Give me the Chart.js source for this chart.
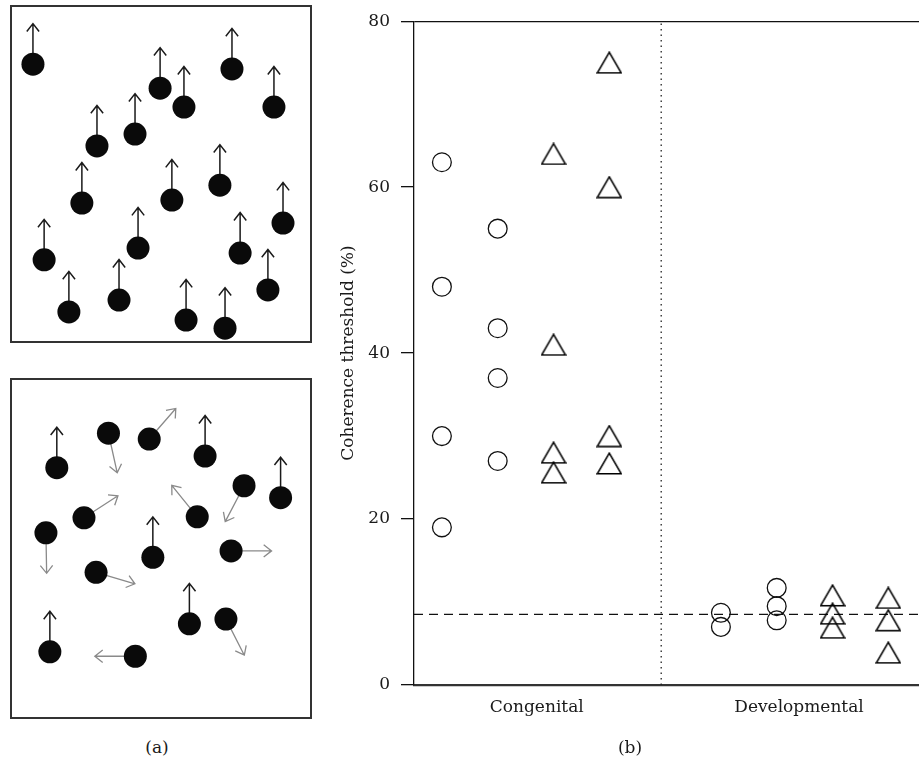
<!DOCTYPE html>
<html><head><meta charset="utf-8">
<script src="https://cdn.jsdelivr.net/npm/chart.js@4"></script>
<style>
html,body{margin:0;padding:0;background:#fff;}
#wrap{position:relative;width:919px;height:761px;overflow:hidden;background:#fff;}
canvas{position:absolute;}
.lab{position:absolute;font-family:'DejaVu Serif';font-size:17px;color:#1a1a1a;transform:translate(-50%,-50%);white-space:nowrap;}
</style></head><body>
<div id="wrap">
<canvas id="boxA1" width="302" height="338" style="left:10px;top:5px"></canvas>
<canvas id="boxA2" width="302" height="341" style="left:10px;top:378px"></canvas>
<canvas id="chartB" width="589" height="761" style="left:330px;top:0"></canvas>
<div class="lab" style="left:157px;top:747px">(a)</div>
<div class="lab" style="left:630px;top:747px">(b)</div>
</div>
<script>
// ---------- Panel (a): dot fields (positions in % of the stimulus box) ----------
const fieldTopX = [7.6, 49.7, 57.6, 73.5, 87.4, 28.8, 41.4, 23.8, 53.6, 69.5, 90.4, 11.3, 42.4, 76.2, 19.5, 36.1, 58.3, 71.2, 85.4];
const fieldTopY = [82.5, 75.4, 69.8, 81.1, 69.8, 58.3, 61.8, 41.4, 42.3, 46.7, 35.5, 24.6, 28.1, 26.6, 9.2, 12.7, 6.8, 4.4, 15.7];
const fieldTopDir = [0, 0, 0, 0, 0, 0, 0, 0, 0, 0, 0, 0, 0, 0, 0, 0, 0, 0, 0]; // degrees, 0 = up, clockwise
const fieldTopSignal = [1, 1, 1, 1, 1, 1, 1, 1, 1, 1, 1, 1, 1, 1, 1, 1, 1, 1, 1];

const fieldBottomX = [15.5, 32.6, 46.1, 64.6, 77.5, 89.6, 24.5, 62.0, 11.9, 47.3, 73.2, 28.5, 59.4, 71.5, 13.2, 41.5];
const fieldBottomY = [73.7, 83.8, 82.1, 77.1, 68.4, 64.9, 59.0, 59.3, 54.6, 47.4, 49.3, 43.0, 27.9, 29.3, 19.7, 18.4];
const fieldBottomDir = [0, 167.5, 41, 0, 207.7, 0, 57, 321, 179, 0, 90, 106.4, 0, 153, 0, 270];
const fieldBottomSignal = [1, 0, 0, 1, 0, 1, 0, 0, 0, 1, 0, 0, 1, 0, 1, 0];

// ---------- Panel (b): coherence thresholds ----------
const groups = ['Congenital', 'Developmental'];
const groupLabelPos = [2.7, 7.4];
const groupDivider = 4.93;
const thresholdLine = 8.5;
const yTicks = [0, 20, 40, 60, 80];
const columnPos = [1, 2, 3, 4, 6, 7, 8, 9];
const congenitalCirclesA = [63, 48, 30, 19];
const congenitalCirclesB = [55, 43, 37, 27];
const congenitalTrianglesA = [64, 41, 28, 25.6];
const congenitalTrianglesB = [75, 60, 30, 26.7];
const developmentalCirclesA = [8.7, 7.0];
const developmentalCirclesB = [11.7, 9.5, 7.8];
const developmentalTrianglesA = [10.8, 8.6, 6.9];
const developmentalTrianglesB = [10.5, 7.8, 3.9];

const FONT = 'DejaVu Serif';
const TXT = '#1a1a1a';

// ---------- Panel (a) charts ----------
const ARROW_LEN = 40.5, HEAD = 10, HEAD_ANG = 38 * Math.PI / 180;
function fieldPlugin(dirs, signal) {
  return {
    id: 'arrows',
    beforeDatasetsDraw(chart) {
      const ctx = chart.ctx;
      const meta = chart.getDatasetMeta(0);
      meta.data.forEach((pt, i) => {
        const a = dirs[i] * Math.PI / 180;
        const dx = Math.sin(a), dy = -Math.cos(a);
        const x0 = pt.x, y0 = pt.y;
        const x1 = x0 + dx * ARROW_LEN, y1 = y0 + dy * ARROW_LEN;
        const back = Math.atan2(-dy, -dx);
        ctx.save();
        ctx.strokeStyle = signal[i] ? '#1a1a1a' : '#8a8a8a';
        ctx.lineWidth = signal[i] ? 1.5 : 1.3;
        ctx.beginPath();
        ctx.moveTo(x0, y0); ctx.lineTo(x1, y1);
        ctx.moveTo(x1 + Math.cos(back + HEAD_ANG) * HEAD, y1 + Math.sin(back + HEAD_ANG) * HEAD);
        ctx.lineTo(x1, y1);
        ctx.lineTo(x1 + Math.cos(back - HEAD_ANG) * HEAD, y1 + Math.sin(back - HEAD_ANG) * HEAD);
        ctx.stroke();
        ctx.restore();
      });
    },
    afterDraw(chart) {
      const ctx = chart.ctx;
      const {left, top, right, bottom} = chart.chartArea;
      ctx.save();
      ctx.strokeStyle = '#333';
      ctx.lineWidth = 2;
      ctx.strokeRect(left + 1, top + 1, right - left - 2, bottom - top - 2);
      ctx.restore();
    }
  };
}
function makeField(id, xs, ys, dirs, signal) {
  new Chart(document.getElementById(id), {
    type: 'scatter',
    data: { datasets: [{
      data: xs.map((x, i) => ({x: x, y: ys[i]})),
      pointRadius: 11.5, pointHoverRadius: 11.5,
      backgroundColor: '#0a0a0a', borderWidth: 0
    }]},
    options: {
      responsive: false, animation: false,
      layout: {padding: 0, autoPadding: false},
      plugins: {legend: {display: false}, tooltip: {enabled: false}},
      scales: {
        x: {type: 'linear', min: 0, max: 100, display: false},
        y: {type: 'linear', min: 0, max: 100, display: false}
      }
    },
    plugins: [fieldPlugin(dirs, signal)]
  });
}
makeField('boxA1', fieldTopX, fieldTopY, fieldTopDir, fieldTopSignal);
makeField('boxA2', fieldBottomX, fieldBottomY, fieldBottomDir, fieldBottomSignal);

// ---------- Panel (b) chart ----------
function triangleImage() {
  const c = document.createElement('canvas');
  c.width = 26; c.height = 23;
  const g = c.getContext('2d');
  g.strokeStyle = '#000';
  g.lineWidth = 1.6;
  g.beginPath();
  g.moveTo(13, 1.2); g.lineTo(25, 21.8); g.lineTo(1, 21.8); g.closePath();
  g.stroke();
  return c;
}
const TRI = triangleImage();
function col(pos, vals, shape) {
  const base = {
    data: vals.map(v => ({x: pos, y: v})),
    borderColor: '#111', borderWidth: 1.3,
    backgroundColor: 'rgba(0,0,0,0)'
  };
  if (shape === 'circle') {
    return Object.assign(base, {pointStyle: 'circle', pointRadius: 9.4, pointHoverRadius: 9.4});
  }
  return Object.assign(base, {pointStyle: TRI, pointRadius: 11, pointHoverRadius: 11});
}

new Chart(document.getElementById('chartB'), {
  type: 'scatter',
  data: { datasets: [
    col(columnPos[0], congenitalCirclesA, 'circle'),
    col(columnPos[1], congenitalCirclesB, 'circle'),
    col(columnPos[2], congenitalTrianglesA, 'tri'),
    col(columnPos[3], congenitalTrianglesB, 'tri'),
    col(columnPos[4], developmentalCirclesA, 'circle'),
    col(columnPos[5], developmentalCirclesB, 'circle'),
    col(columnPos[6], developmentalTrianglesA, 'tri'),
    col(columnPos[7], developmentalTrianglesB, 'tri'),
    {type: 'line', data: [{x: 0.5, y: thresholdLine}, {x: 9.55, y: thresholdLine}],
     borderColor: '#111', borderWidth: 1.3, borderDash: [9, 6], pointRadius: 0, fill: false},
    {type: 'line', data: [{x: groupDivider, y: 0}, {x: groupDivider, y: 80}],
     borderColor: '#222', borderWidth: 1.3, borderDash: [1.5, 4], pointRadius: 0, fill: false}
  ]},
  options: {
    responsive: false, animation: false,
    layout: {padding: {top: 18, left: 0, right: 0, bottom: 0}, autoPadding: false},
    plugins: {legend: {display: false}, tooltip: {enabled: false}},
    scales: {
      x: {
        type: 'linear', min: 0.5, max: 9.55,
        afterFit(s) { s.height = 76; },
        afterBuildTicks(s) { s.ticks = groupLabelPos.map(v => ({value: v})); },
        ticks: {autoSkip: false, maxRotation: 0, padding: 12, color: TXT,
                font: {family: FONT, size: 17},
                callback: (v, i) => groups[i]},
        grid: {color: 'rgba(0,0,0,0)', drawTicks: false},
        border: {color: '#333', width: 2.2}
      },
      y: {
        type: 'linear', min: 0, max: 80,
        afterFit(s) { s.width = 84; },
        afterBuildTicks(s) { s.ticks = yTicks.map(v => ({value: v})); },
        ticks: {padding: 11, color: TXT, font: {family: FONT, size: 17}},
        grid: {
          color: c => (c.tick && c.tick.value === 80) ? '#111' : 'rgba(0,0,0,0)',
          tickColor: '#111', tickLength: 13, lineWidth: 1.3
        },
        border: {color: '#111', width: 1.3},
        title: {display: true, text: 'Coherence threshold (%)', color: TXT,
                font: {family: FONT, size: 17}, padding: {top: 8, bottom: 0}}
      }
    }
  }
});
</script>
</body></html>
